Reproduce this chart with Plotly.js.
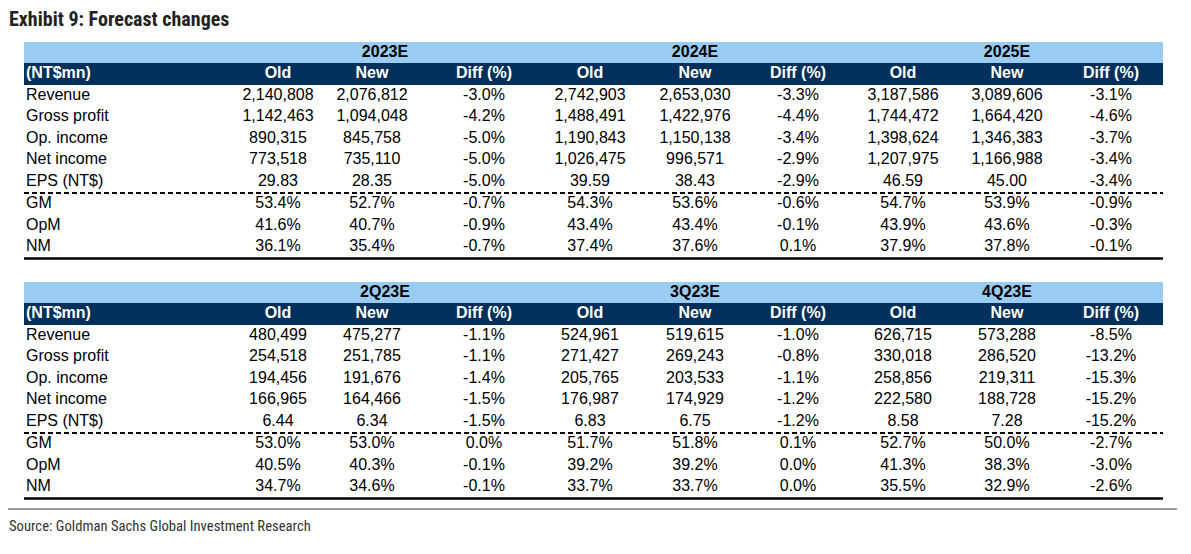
<!DOCTYPE html>
<html><head><meta charset="utf-8">
<script src="https://cdn.plot.ly/plotly-3.0.1.min.js"></script>
<style>html,body{margin:0;padding:0;background:#fff}</style>
</head><body>
<div id="chart" style="width:1191px;height:554px"></div>
<script>
// ---- data ----
const chartTitle = 'Exhibit 9: Forecast changes';
const sourceText = 'Source: Goldman Sachs Global Investment Research';
const unitLabel = '(NT$mn)';
const rowLabels = ['Revenue','Gross profit','Op. income','Net income','EPS (NT$)','GM','OpM','NM'];
const colHeaders = ['Old','New','Diff (%)'];
const annualPeriods = ['2023E','2024E','2025E'];
const quarterPeriods = ['2Q23E','3Q23E','4Q23E'];

const old2023E = [2140808, 1142463, 890315, 773518, 29.83, 53.4, 41.6, 36.1];
const new2023E = [2076812, 1094048, 845758, 735110, 28.35, 52.7, 40.7, 35.4];
const diff2023E = [-3.0, -4.2, -5.0, -5.0, -5.0, -0.7, -0.9, -0.7];
const old2024E = [2742903, 1488491, 1190843, 1026475, 39.59, 54.3, 43.4, 37.4];
const new2024E = [2653030, 1422976, 1150138, 996571, 38.43, 53.6, 43.4, 37.6];
const diff2024E = [-3.3, -4.4, -3.4, -2.9, -2.9, -0.6, -0.1, 0.1];
const old2025E = [3187586, 1744472, 1398624, 1207975, 46.59, 54.7, 43.9, 37.9];
const new2025E = [3089606, 1664420, 1346383, 1166988, 45.00, 53.9, 43.6, 37.8];
const diff2025E = [-3.1, -4.6, -3.7, -3.4, -3.4, -0.9, -0.3, -0.1];

const old2Q23E = [480499, 254518, 194456, 166965, 6.44, 53.0, 40.5, 34.7];
const new2Q23E = [475277, 251785, 191676, 164466, 6.34, 53.0, 40.3, 34.6];
const diff2Q23E = [-1.1, -1.1, -1.4, -1.5, -1.5, 0.0, -0.1, -0.1];
const old3Q23E = [524961, 271427, 205765, 176987, 6.83, 51.7, 39.2, 33.7];
const new3Q23E = [519615, 269243, 203533, 174929, 6.75, 51.8, 39.2, 33.7];
const diff3Q23E = [-1.0, -0.8, -1.1, -1.2, -1.2, 0.1, 0.0, 0.0];
const old4Q23E = [626715, 330018, 258856, 222580, 8.58, 52.7, 41.3, 35.5];
const new4Q23E = [573288, 286520, 219311, 188728, 7.28, 50.0, 38.3, 32.9];
const diff4Q23E = [-8.5, -13.2, -15.3, -15.2, -15.2, -2.7, -3.0, -2.6];

const tables = [
  {periods: annualPeriods, cols: [[old2023E,new2023E,diff2023E],[old2024E,new2024E,diff2024E],[old2025E,new2025E,diff2025E]]},
  {periods: quarterPeriods, cols: [[old2Q23E,new2Q23E,diff2Q23E],[old3Q23E,new3Q23E,diff3Q23E],[old4Q23E,new4Q23E,diff4Q23E]]}
];

// ---- layout constants ----
const W = 1191, H = 554;
const FONT = 'Liberation Sans, Arial, Helvetica, sans-serif';
const LIGHT = '#99CCF0', NAVY = '#01315A';
const colX = [[278,372,484],[590,695,798],[903,1007,1111]];
const groupX = [385,695,1007];
const tableTop = [42,282];
const L = 24, R = 1163, labelX = 26;
const rowOff = [53.5,75,96.5,118,139.5,162,183.5,205];
const FS = 16;

// pick an installed condensed family and fit its size to the reference text width
const cv = document.createElement('canvas').getContext('2d');
function textW(txt, fam, size, weight){ cv.font = (weight||'normal')+' '+size+'px '+fam; return cv.measureText(txt).width; }
function hasFont(f){ return textW('abcdefghijklmnopqrstuvwxyz0123','"'+f+'", monospace',40) !== textW('abcdefghijklmnopqrstuvwxyz0123','monospace',40); }
const narrowFam = ['Liberation Sans Narrow','Roboto Condensed','DejaVu Sans Condensed','Liberation Sans'].find(hasFont) || 'sans-serif';
function fitSize(txt, weight, target){ return +(100*target/textW(txt,'"'+narrowFam+'"',100,weight)).toFixed(2); }
const titleSize = Math.min(20, fitSize(chartTitle,'bold',229));
const sourceSize = Math.min(15, fitSize(sourceText,'normal',302));

function commas(n){ return String(n).replace(/\B(?=(\d{3})+(?!\d))/g, ','); }
function fmt(v,row){ if(row<4) return commas(v); if(row===4) return v.toFixed(2); return v.toFixed(1)+'%'; }
function fmtDiff(v){ return v.toFixed(1)+'%'; }

const traces = [];
const shapes = [];
const annotations = [];

tables.forEach((t,ti)=>{
  const top = tableTop[ti];
  shapes.push({type:'rect',xref:'x',yref:'y',x0:L,x1:R,y0:top,y1:top+21,fillcolor:LIGHT,line:{width:0},layer:'below'});
  shapes.push({type:'rect',xref:'x',yref:'y',x0:L,x1:R,y0:top+21,y1:top+43,fillcolor:NAVY,line:{width:0},layer:'below'});
  shapes.push({type:'line',xref:'x',yref:'y',x0:L,x1:R,y0:top+151,y1:top+151,line:{color:'#000',width:2,dash:'5px,3px'}});
  shapes.push({type:'line',xref:'x',yref:'y',x0:L,x1:R,y0:top+216.5,y1:top+216.5,line:{color:'#000',width:2.5}});
  traces.push({type:'scatter',mode:'text',x:groupX,y:groupX.map(()=>top+10.5),text:t.periods,
    textposition:'middle center',textfont:{family:FONT,size:FS,color:'#000',weight:'bold'},hoverinfo:'skip'});
  traces.push({type:'scatter',mode:'text',x:[labelX],y:[top+32],text:[unitLabel],textposition:'middle right',
    textfont:{family:FONT,size:FS,color:'#fff',weight:'bold'},hoverinfo:'skip'});
  const cx=[],cy=[],ct=[];
  colX.forEach(g=>g.forEach((x,ci)=>{cx.push(x);cy.push(top+32);ct.push(colHeaders[ci]);}));
  traces.push({type:'scatter',mode:'text',x:cx,y:cy,text:ct,textposition:'middle center',
    textfont:{family:FONT,size:FS,color:'#fff',weight:'bold'},hoverinfo:'skip'});
  traces.push({type:'scatter',mode:'text',x:rowLabels.map(()=>labelX),y:rowOff.map(o=>top+o),text:rowLabels,
    textposition:'middle right',textfont:{family:FONT,size:FS,color:'#000'},hoverinfo:'skip'});
  const vx=[],vy=[],vt=[];
  t.cols.forEach((grp,gi)=>{
    grp.forEach((arr,ci)=>{
      arr.forEach((v,ri)=>{
        vx.push(colX[gi][ci]); vy.push(top+rowOff[ri]);
        vt.push(ci===2?fmtDiff(v):fmt(v,ri));
      });
    });
  });
  traces.push({type:'scatter',mode:'text',x:vx,y:vy,text:vt,textposition:'middle center',
    textfont:{family:FONT,size:FS,color:'#000'},hoverinfo:'skip'});
});

shapes.push({type:'line',xref:'x',yref:'y',x0:8,x1:1177,y0:509,y1:509,line:{color:'#9a9a9a',width:2}});

annotations.push({xref:'x',yref:'y',x:7,y:19,text:'<b>'+chartTitle+'</b>',showarrow:false,xanchor:'left',yanchor:'middle',
  font:{family:narrowFam,size:titleSize,color:'#222'}});
annotations.push({xref:'x',yref:'y',x:7,y:526,text:sourceText,showarrow:false,xanchor:'left',yanchor:'middle',
  font:{family:narrowFam,size:sourceSize,color:'#333'}});

const layout = {
  width:W,height:H,margin:{l:0,r:0,t:0,b:0},paper_bgcolor:'#fff',plot_bgcolor:'#fff',showlegend:false,
  xaxis:{range:[0,W],visible:false,fixedrange:true},
  yaxis:{range:[H,0],visible:false,fixedrange:true},
  shapes:shapes,annotations:annotations
};
Plotly.newPlot('chart',traces,layout,{staticPlot:true,displayModeBar:false});
</script>
</body></html>
